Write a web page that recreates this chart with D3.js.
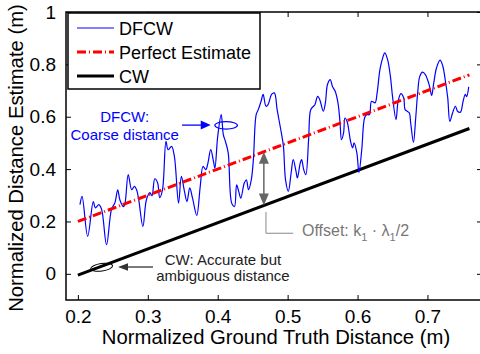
<!DOCTYPE html>
<html lang="en">
<head>
    <meta charset="UTF-8">
    <title>DFCW vs CW distance estimate</title>
    <script src="https://d3js.org/d3.v7.min.js"></script>
    <style>
        body { margin: 0; background: #fff; }
        svg { display: block; font-family: "Liberation Sans", Arial, sans-serif; }
        .tick-label { font-size: 19px; fill: #000; }
        .axis-title { font-size: 20.3px; fill: #000; }
        .legend-text { font-size: 18px; fill: #000; }
        .note { font-size: 15px; }
    </style>
</head>
<body>
<div id="chart"></div>
<script>
    // tick values and labels
    const xTicks = [0.2, 0.3, 0.4, 0.5, 0.6, 0.7];
    const xTickLabels = ["0.2", "0.3", "0.4", "0.5", "0.6", "0.7"];
    const yTicks = [0, 0.2, 0.4, 0.6, 0.8, 1];
    const yTickLabels = ["0", "0.2", "0.4", "0.6", "0.8", "1"];

    // DFCW estimate
    const dfcwX = [0.203, 0.206, 0.214, 0.222, 0.225, 0.230, 0.234, 0.241, 0.248, 0.253,
        0.257, 0.260, 0.265, 0.267, 0.272, 0.277, 0.281, 0.284, 0.287, 0.293,
        0.298, 0.303, 0.306, 0.310, 0.314, 0.317, 0.321, 0.326, 0.329, 0.334,
        0.338, 0.344, 0.348, 0.352, 0.356, 0.360, 0.364, 0.370, 0.375, 0.379,
        0.383, 0.386, 0.390, 0.394, 0.396, 0.400, 0.405, 0.408, 0.411, 0.415,
        0.420, 0.424, 0.427, 0.430, 0.433, 0.438, 0.441, 0.444, 0.448, 0.451,
        0.455, 0.458, 0.462, 0.465, 0.469, 0.472, 0.477, 0.481, 0.485, 0.491,
        0.494, 0.497, 0.501, 0.505, 0.508, 0.512, 0.514, 0.518, 0.520, 0.523,
        0.526, 0.530, 0.533, 0.537, 0.539, 0.543, 0.546, 0.551, 0.554, 0.557,
        0.561, 0.564, 0.568, 0.572, 0.575, 0.577, 0.580, 0.582, 0.585, 0.587,
        0.590, 0.593, 0.595, 0.599, 0.602, 0.606, 0.610, 0.613, 0.617, 0.620,
        0.625, 0.628, 0.632, 0.636, 0.639, 0.643, 0.647, 0.650, 0.655, 0.658,
        0.662, 0.666, 0.668, 0.671, 0.674, 0.676, 0.680, 0.683, 0.686, 0.689,
        0.693, 0.697, 0.700, 0.703, 0.706, 0.709, 0.713, 0.718, 0.722, 0.725,
        0.729, 0.732, 0.736, 0.740, 0.743, 0.747, 0.751, 0.754, 0.756, 0.759];
    const dfcwY = [0.264, 0.296, 0.143, 0.276, 0.252, 0.264, 0.245, 0.111, 0.245, 0.272,
        0.321, 0.283, 0.257, 0.264, 0.379, 0.321, 0.334, 0.321, 0.283, 0.181,
        0.283, 0.310, 0.298, 0.363, 0.348, 0.291, 0.321, 0.506, 0.474, 0.487,
        0.449, 0.270, 0.372, 0.321, 0.276, 0.328, 0.289, 0.223, 0.334, 0.410,
        0.398, 0.423, 0.474, 0.429, 0.404, 0.525, 0.608, 0.532, 0.506, 0.462,
        0.270, 0.257, 0.340, 0.315, 0.289, 0.347, 0.359, 0.321, 0.359, 0.436,
        0.608, 0.627, 0.659, 0.685, 0.640, 0.646, 0.685, 0.691, 0.627, 0.538,
        0.487, 0.359, 0.315, 0.385, 0.436, 0.391, 0.366, 0.423, 0.436, 0.398,
        0.379, 0.512, 0.627, 0.640, 0.646, 0.678, 0.665, 0.621, 0.653, 0.723,
        0.742, 0.716, 0.697, 0.653, 0.576, 0.512, 0.538, 0.595, 0.582, 0.557,
        0.506, 0.481, 0.500, 0.462, 0.387, 0.474, 0.595, 0.608, 0.608, 0.659,
        0.653, 0.691, 0.780, 0.825, 0.844, 0.818, 0.754, 0.678, 0.589, 0.659,
        0.688, 0.672, 0.627, 0.621, 0.615, 0.576, 0.502, 0.589, 0.691, 0.754,
        0.770, 0.761, 0.742, 0.716, 0.681, 0.729, 0.787, 0.816, 0.793, 0.748,
        0.672, 0.582, 0.615, 0.640, 0.621, 0.617, 0.659, 0.685, 0.677, 0.714];

    // perfect estimate and CW estimate (straight lines)
    const perfectX = [0.2, 0.76];
    const perfectY = [0.2, 0.76];
    const cwX = [0.2, 0.76];
    const cwY = [-0.005, 0.555];

    const legendNames = ["DFCW", "Perfect Estimate", "CW"];

    const W = 480, H = 354;
    const plot = { left: 66, right: 482, top: 12, bottom: 300 };

    const svg = d3.select("#chart").append("svg")
        .attr("width", W)
        .attr("height", H);

    const x = d3.scaleLinear().domain([0.183, 0.778]).range([plot.left, plot.right]);
    const y = d3.scaleLinear().domain([-0.1, 1]).range([plot.bottom, plot.top]);

    const toPts = (xs, ys) => xs.map((v, i) => [v, ys[i]]);

    // lines
    const smooth = d3.line().x(d => x(d[0])).y(d => y(d[1])).curve(d3.curveCatmullRom.alpha(0.5));
    const straight = d3.line().x(d => x(d[0])).y(d => y(d[1]));

    svg.append("path")
        .attr("d", straight(toPts(cwX, cwY)))
        .attr("fill", "none")
        .attr("stroke", "#000")
        .attr("stroke-width", 3);

    svg.append("path")
        .attr("d", smooth(toPts(dfcwX, dfcwY)))
        .attr("fill", "none")
        .attr("stroke", "#0000ff")
        .attr("stroke-width", 1.2);

    svg.append("path")
        .attr("d", straight(toPts(perfectX, perfectY)))
        .attr("fill", "none")
        .attr("stroke", "#ff0000")
        .attr("stroke-width", 3)
        .attr("stroke-dasharray", "9,3,1,3");

    // axes box
    svg.append("rect")
        .attr("x", plot.left).attr("y", plot.top)
        .attr("width", plot.right - plot.left)
        .attr("height", plot.bottom - plot.top)
        .attr("fill", "none")
        .attr("stroke", "#000")
        .attr("stroke-width", 1.5);

    const tickLen = 5;
    const xAxisB = svg.append("g").attr("transform", `translate(0,${plot.bottom})`)
        .call(d3.axisBottom(x).tickValues(xTicks).tickSizeInner(-tickLen).tickSizeOuter(0).tickPadding(10)
            .tickFormat((d, i) => xTickLabels[i]));
    const xAxisT = svg.append("g").attr("transform", `translate(0,${plot.top})`)
        .call(d3.axisTop(x).tickValues(xTicks).tickSizeInner(-tickLen).tickSizeOuter(0).tickFormat(""));
    const yAxisL = svg.append("g").attr("transform", `translate(${plot.left},0)`)
        .call(d3.axisLeft(y).tickValues(yTicks).tickSizeInner(-tickLen).tickSizeOuter(0).tickPadding(10)
            .tickFormat((d, i) => yTickLabels[i]));
    const yAxisR = svg.append("g").attr("transform", `translate(${plot.right},0)`)
        .call(d3.axisRight(y).tickValues(yTicks).tickSizeInner(-tickLen).tickSizeOuter(0).tickFormat(""));

    [xAxisB, xAxisT, yAxisL, yAxisR].forEach(g => {
        g.select(".domain").remove();
        g.selectAll(".tick line").attr("stroke", "#000").attr("stroke-width", 1);
        g.selectAll("text").attr("class", "tick-label").attr("font-family", null).attr("font-size", null);
    });

    // axis titles
    svg.append("text")
        .attr("class", "axis-title")
        .attr("x", (plot.left + plot.right) / 2 + 2)
        .attr("y", 344)
        .attr("text-anchor", "middle")
        .text("Normalized Ground Truth Distance (m)");

    svg.append("text")
        .attr("class", "axis-title")
        .attr("transform", `translate(23,${(plot.top + plot.bottom) / 2 + 2}) rotate(-90)`)
        .attr("text-anchor", "middle")
        .text("Normalized Distance Estimate (m)");

    // legend
    const lg = svg.append("g").attr("transform", "translate(68,13)");
    lg.append("rect").attr("width", 192).attr("height", 76)
        .attr("fill", "#fff").attr("stroke", "#000").attr("stroke-width", 1.5);
    const legendStyle = [
        { stroke: "#0000ff", w: 1.2, dash: null },
        { stroke: "#ff0000", w: 3, dash: "9,3,1,3" },
        { stroke: "#000", w: 3, dash: null }
    ];
    legendNames.forEach((name, i) => {
        const cy = 15 + i * 24;
        lg.append("line").attr("x1", 9).attr("x2", 46).attr("y1", cy).attr("y2", cy)
            .attr("stroke", legendStyle[i].stroke)
            .attr("stroke-width", legendStyle[i].w)
            .attr("stroke-dasharray", legendStyle[i].dash);
        lg.append("text").attr("class", "legend-text")
            .attr("x", 51).attr("y", cy + 6.5).text(name);
    });

    // annotation: DFCW coarse distance
    svg.append("text").attr("class", "note").attr("fill", "#0000ff")
        .attr("x", x(0.267)).attr("y", y(0.581)).attr("text-anchor", "middle")
        .text("DFCW:");
    svg.append("text").attr("class", "note").attr("fill", "#0000ff")
        .attr("x", x(0.267)).attr("y", y(0.581) + 18.5).attr("text-anchor", "middle")
        .text("Coarse distance");

    function arrowHead(tipX, tipY, dx, dy, len, half, color) {
        // dx,dy: unit direction of travel
        const bx = tipX - dx * len, by = tipY - dy * len;
        const px = -dy * half, py = dx * half;
        svg.append("path")
            .attr("d", `M${tipX},${tipY}L${bx + px},${by + py}L${bx - px},${by - py}Z`)
            .attr("fill", color);
    }

    const ba = { x1: x(0.349), x2: x(0.390), y: y(0.568) };
    svg.append("line").attr("x1", ba.x1).attr("x2", ba.x2 - 8).attr("y1", ba.y).attr("y2", ba.y)
        .attr("stroke", "#0000ff").attr("stroke-width", 1.3);
    arrowHead(ba.x2, ba.y, 1, 0, 10, 4.5, "#0000ff");
    svg.append("ellipse").attr("cx", x(0.412)).attr("cy", y(0.567)).attr("rx", 11.3).attr("ry", 3.7)
        .attr("fill", "none").attr("stroke", "#0000ff").attr("stroke-width", 1.2);

    // annotation: offset between perfect estimate and CW
    const ox = x(0.466);
    const oTop = y(0.466), oBot = y(0.261);
    svg.append("line").attr("x1", ox).attr("x2", ox).attr("y1", oTop + 10).attr("y2", oBot - 10)
        .attr("stroke", "#666").attr("stroke-width", 1.5);
    arrowHead(ox, oTop, 0, -1, 12, 5, "#666");
    arrowHead(ox, oBot, 0, 1, 12, 5, "#666");
    svg.append("path")
        .attr("d", `M${x(0.469)},${y(0.236)}V${y(0.155)}H${x(0.508)}`)
        .attr("fill", "none").attr("stroke", "#888").attr("stroke-width", 1);
    const off = svg.append("text").attr("class", "note").attr("fill", "#777")
        .attr("x", x(0.5205)).attr("y", y(0.1444)).style("font-size", "16px");
    off.append("tspan").text("Offset: k");
    off.append("tspan").attr("dy", 5).style("font-size", "11px").text("1");
    off.append("tspan").attr("dy", -5).text(" \u00b7 \u03bb");
    off.append("tspan").attr("dy", 5).style("font-size", "11px").text("1");
    off.append("tspan").attr("dy", -5).text("/2");

    // annotation: CW accurate but ambiguous
    svg.append("ellipse").attr("cx", x(0.234)).attr("cy", y(0.025)).attr("rx", 11).attr("ry", 3.8)
        .attr("transform", `rotate(-8,${x(0.234)},${y(0.025)})`)
        .attr("fill", "none").attr("stroke", "#000").attr("stroke-width", 1);
    const ca = { x1: x(0.3074), x2: x(0.2574), y: y(0.026) };
    svg.append("line").attr("x1", ca.x1).attr("x2", ca.x2 + 8).attr("y1", ca.y).attr("y2", ca.y)
        .attr("stroke", "#333").attr("stroke-width", 1.3);
    arrowHead(ca.x2, ca.y, -1, 0, 10, 3.8, "#333");
    svg.append("text").attr("class", "note").attr("fill", "#222")
        .attr("x", x(0.4075)).attr("y", y(0.0337)).attr("text-anchor", "middle")
        .text("CW: Accurate but");
    svg.append("text").attr("class", "note").attr("fill", "#222")
        .attr("x", x(0.4075)).attr("y", y(0.0337) + 16).attr("text-anchor", "middle")
        .text("ambiguous distance");
</script>
</body>
</html>
